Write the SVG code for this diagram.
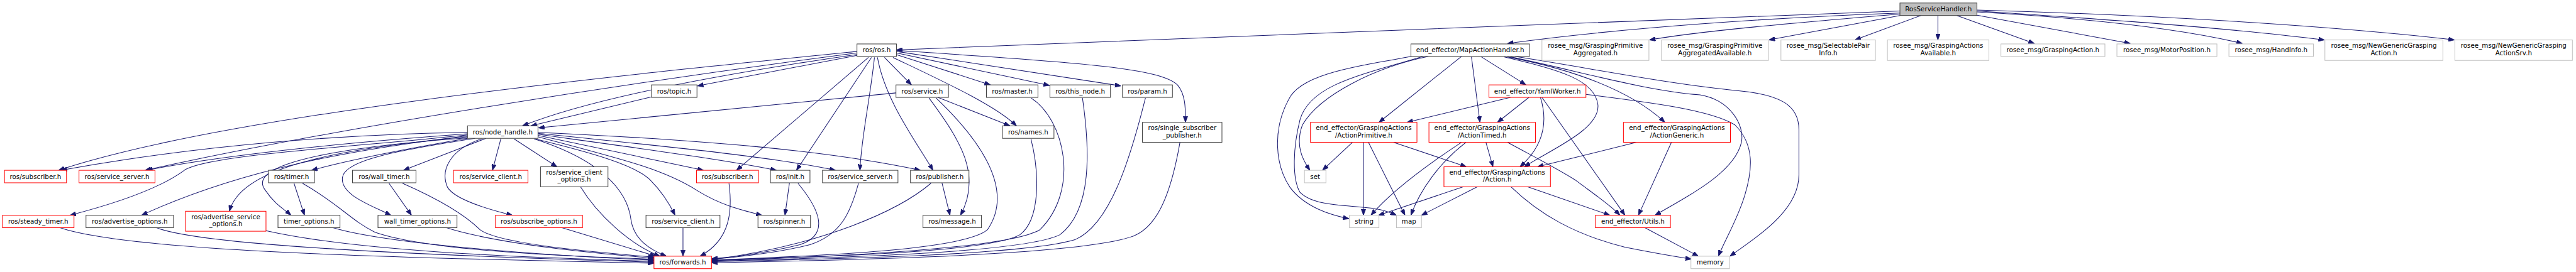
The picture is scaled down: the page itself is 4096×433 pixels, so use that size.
<svg xmlns="http://www.w3.org/2000/svg" width="4096" height="433" viewBox="0 0 4096 433">
<style>
.nd rect{fill:#fff;stroke:#404040;stroke-width:1.3}
.rd rect{fill:#fff;stroke:#ff0000;stroke-width:1.3}
.gr rect{fill:#fff;stroke:#bfbfbf;stroke-width:1.3}
.rt rect{fill:#bfbfbf;stroke:#404040;stroke-width:1.3}
text{font-family:"DejaVu Sans","Liberation Sans",sans-serif;font-size:13px;text-anchor:middle;fill:#000}
#edges path{fill:none;stroke:#191970;stroke-width:1.3;marker-end:url(#a)}
</style>
<defs>
<marker id="a" viewBox="0 0 12 9" refX="12" refY="4.5" markerWidth="12" markerHeight="9" orient="auto" markerUnits="userSpaceOnUse"><path d="M0,0 L12,4.5 L0,9 z" fill="#191970" stroke="#191970" stroke-width="1"/></marker>
</defs>
<rect width="4096" height="433" fill="#fff"/>
<g transform="scale(0.795)">
<g id="edges">
<path d="M3800,22 C3300,40 2300,80 1793,100"/>
<path d="M3800,26 C3550,35 3250,55 3015,87"/>
<path d="M3800,28 C3600,45 3400,62 3299,80"/>
<path d="M3800,31 L3538,80"/>
<path d="M3842,31 L3710,80"/>
<path d="M3876,31 L3876,80"/>
<path d="M3914,31 L4069,87"/>
<path d="M3951,30 L4261,87"/>
<path d="M3954,24 C4150,35 4350,55 4485,87"/>
<path d="M3954,22 C4200,38 4450,55 4649,80"/>
<path d="M3954,20 C4300,30 4650,50 4909,80"/>
<path d="M1714,103 C1200,155 450,230 117,341"/>
<path d="M1714,106 C1300,160 700,250 290,341"/>
<path d="M1714,111 L1395,172"/>
<path d="M1714,109 C1500,140 1200,190 1045,252"/>
<path d="M1737,115 L1473,341"/>
<path d="M1743,115 L1593,341"/>
<path d="M1749,115 C1740,200 1722,280 1720,341"/>
<path d="M1755,115 C1770,200 1830,280 1866,341"/>
<path d="M1769,115 L1823,170"/>
<path d="M1786,115 C1880,160 1990,210 2033,252"/>
<path d="M1792,109 L1981,170"/>
<path d="M1793,106 L2099,171"/>
<path d="M1793,103 L2242,172"/>
<path d="M1793,101 C2150,125 2320,135 2355,170 C2372,190 2371,220 2371,245"/>
<path d="M1303,194 L1062,252"/>
<path d="M1792,186 L1077,256"/>
<path d="M1876,195 L2020,252"/>
<path d="M1858,196 C1920,280 1965,350 1921,431"/>
<path d="M1872,196 C1960,280 2030,380 1975,460 C1930,500 1650,512 1423,521"/>
<path d="M2062,196 C2130,240 2160,380 2080,460 C2010,500 1650,515 1423,522"/>
<path d="M2165,196 C2180,300 2185,420 2120,470 C2050,505 1700,516 1423,523"/>
<path d="M2291,196 C2260,320 2220,450 2150,480 C2050,510 1700,518 1423,524"/>
<path d="M2062,278 C2080,350 2080,440 2040,470 C1980,505 1650,514 1423,521"/>
<path d="M2360,285 C2340,400 2310,460 2260,475 C2150,510 1750,520 1423,526"/>
<path d="M1884,366 L1900,431"/>
<path d="M1862,367 C1800,420 1650,490 1423,520"/>
<path d="M1717,367 C1700,430 1680,470 1620,490 C1560,505 1480,515 1423,519"/>
<path d="M1579,366 L1570,431"/>
<path d="M1596,367 C1640,420 1660,470 1600,490 C1540,505 1470,515 1423,518"/>
<path d="M1458,367 C1465,420 1462,480 1400,513"/>
<path d="M1366,456 L1366,513"/>
<path d="M1124,456 L1312,513"/>
<path d="M1161,374 C1195,430 1260,490 1320,513"/>
<path d="M1068,278 C1200,320 1255,380 1262,440 C1268,480 1300,500 1333,513"/>
<path d="M120,456 C250,500 700,515 1308,527"/>
<path d="M313,456 C400,490 800,510 1308,525"/>
<path d="M532,462 C700,500 1000,515 1308,523"/>
<path d="M666,456 C780,490 1100,512 1308,521"/>
<path d="M605,367 C680,410 700,440 750,465 C850,500 1100,512 1308,519"/>
<path d="M893,456 C1000,490 1200,508 1308,517"/>
<path d="M805,367 C880,400 930,430 960,460 C1000,490 1200,505 1308,515"/>
<path d="M588,367 L609,431"/>
<path d="M778,367 L823,431"/>
<path d="M935,265 C700,268 400,290 122,341"/>
<path d="M935,268 C700,285 450,310 293,341"/>
<path d="M935,270 C700,295 420,310 370,340 C330,370 260,400 140,431"/>
<path d="M935,272 C700,300 480,340 283,431"/>
<path d="M935,274 C650,300 480,340 459,423"/>
<path d="M935,276 C600,300 500,340 530,380 C550,410 570,420 582,431"/>
<path d="M935,277 C800,300 700,320 623,341"/>
<path d="M972,277 L807,341"/>
<path d="M950,277 C800,300 690,320 685,355 C680,390 740,410 782,431"/>
<path d="M1002,277 L985,341"/>
<path d="M963,278 C900,300 880,340 895,375 C910,400 980,420 1025,431"/>
<path d="M1028,278 L1114,334"/>
<path d="M1076,271 L1407,341"/>
<path d="M1076,269 C1300,300 1450,320 1553,341"/>
<path d="M1076,267 C1350,295 1550,315 1671,341"/>
<path d="M1076,265 C1400,280 1650,300 1841,341"/>
<path d="M1070,278 C1180,305 1270,330 1300,360 C1325,385 1340,410 1350,431"/>
<path d="M1076,274 C1250,320 1330,340 1395,382 C1440,410 1480,420 1524,431"/>
<path d="M2823,113 C2700,135 2600,150 2577,200 C2545,260 2550,330 2580,375 C2610,415 2660,430 2698,438"/>
<path d="M2847,113 C2720,150 2620,170 2600,240 C2585,300 2585,360 2600,385 C2630,415 2700,410 2750,418 C2765,420 2780,425 2793,431"/>
<path d="M2857,113 C2750,135 2640,190 2605,250 C2590,290 2605,320 2620,341"/>
<path d="M2923,113 L2758,245"/>
<path d="M2943,114 L2960,245"/>
<path d="M2963,114 L3052,170"/>
<path d="M3009,114 C3120,140 3190,160 3196,210 C3200,260 3100,300 3049,334"/>
<path d="M3015,114 C3150,140 3260,180 3330,245"/>
<path d="M3021,114 C3150,140 3280,180 3400,190 C3460,200 3490,250 3483,285 C3470,340 3400,380 3310,431"/>
<path d="M3030,113 C3200,140 3350,170 3480,182 C3560,190 3598,210 3598,260 L3598,350 C3598,420 3520,470 3460,513"/>
<path d="M3021,195 L2814,245"/>
<path d="M3058,195 L2995,245"/>
<path d="M3081,195 C3095,240 3090,290 3040,334"/>
<path d="M3084,195 L3250,431"/>
<path d="M3172,189 C3300,205 3420,220 3470,250 C3510,290 3505,340 3490,390 C3475,440 3450,480 3437,513"/>
<path d="M2705,285 L2645,341"/>
<path d="M2727,285 L2727,431"/>
<path d="M2737,285 L2810,431"/>
<path d="M2787,285 L2933,334"/>
<path d="M2923,285 C2870,320 2790,375 2742,431"/>
<path d="M2932,285 C2880,325 2840,380 2822,431"/>
<path d="M2972,285 L2986,334"/>
<path d="M3015,285 C3070,315 3110,335 3150,360 C3190,390 3220,410 3240,431"/>
<path d="M3273,285 L3075,334"/>
<path d="M3343,285 L3277,431"/>
<path d="M2927,374 L2757,431"/>
<path d="M2955,374 L2843,431"/>
<path d="M3055,374 L3220,431"/>
<path d="M3022,374 C3080,430 3150,470 3250,495 C3300,505 3340,512 3383,519"/>
<path d="M3290,456 L3397,513"/>
</g>
<g id="n_root" class="rt"><rect x="3800" y="6" width="154" height="25"/><text x="3877" y="23">RosServiceHandler.h</text></g>
<g id="n_ros" class="nd"><rect x="1714" y="88" width="79" height="25"/><text x="1753.5" y="105">ros/ros.h</text></g>
<g id="n_map_handler" class="nd"><rect x="2822" y="88" width="237" height="25"/><text x="2940.5" y="105">end_effector/MapActionHandler.h</text></g>
<g id="n_gpa" class="gr"><rect x="3084" y="80" width="214" height="41"/><text x="3191" y="96">rosee_msg/GraspingPrimitive</text><text x="3191" y="111">Aggregated.h</text></g>
<g id="n_gpaa" class="gr"><rect x="3323" y="80" width="214" height="41"/><text x="3430" y="96">rosee_msg/GraspingPrimitive</text><text x="3430" y="111">AggregatedAvailable.h</text></g>
<g id="n_spi" class="gr"><rect x="3562" y="80" width="189" height="41"/><text x="3656.5" y="96">rosee_msg/SelectablePair</text><text x="3656.5" y="111">Info.h</text></g>
<g id="n_gaa" class="gr"><rect x="3775" y="80" width="203" height="41"/><text x="3876.5" y="96">rosee_msg/GraspingActions</text><text x="3876.5" y="111">Available.h</text></g>
<g id="n_ga" class="gr"><rect x="4002" y="88" width="208" height="25"/><text x="4106" y="105">rosee_msg/GraspingAction.h</text></g>
<g id="n_mp" class="gr"><rect x="4234" y="88" width="200" height="25"/><text x="4334" y="105">rosee_msg/MotorPosition.h</text></g>
<g id="n_hi" class="gr"><rect x="4458" y="88" width="169" height="25"/><text x="4542.5" y="105">rosee_msg/HandInfo.h</text></g>
<g id="n_ngga" class="gr"><rect x="4650" y="80" width="236" height="41"/><text x="4768" y="96">rosee_msg/NewGenericGrasping</text><text x="4768" y="111">Action.h</text></g>
<g id="n_nggas" class="gr"><rect x="4910" y="80" width="235" height="41"/><text x="5027.5" y="96">rosee_msg/NewGenericGrasping</text><text x="5027.5" y="111">ActionSrv.h</text></g>
<g id="n_topic" class="nd"><rect x="1303" y="170" width="91" height="25"/><text x="1348.5" y="187">ros/topic.h</text></g>
<g id="n_service" class="nd"><rect x="1792" y="170" width="105" height="25"/><text x="1844.5" y="187">ros/service.h</text></g>
<g id="n_master" class="nd"><rect x="1973" y="170" width="103" height="25"/><text x="2024.5" y="187">ros/master.h</text></g>
<g id="n_this_node" class="nd"><rect x="2100" y="170" width="121" height="25"/><text x="2160.5" y="187">ros/this_node.h</text></g>
<g id="n_param" class="nd"><rect x="2245" y="170" width="100" height="25"/><text x="2295" y="187">ros/param.h</text></g>
<g id="n_yaml" class="rd"><rect x="2978" y="170" width="194" height="25"/><text x="3075" y="187">end_effector/YamlWorker.h</text></g>
<g id="n_node_handle" class="nd"><rect x="935" y="252" width="141" height="25"/><text x="1005.5" y="269">ros/node_handle.h</text></g>
<g id="n_names" class="nd"><rect x="2005" y="252" width="103" height="25"/><text x="2056.5" y="269">ros/names.h</text></g>
<g id="n_ssp" class="nd"><rect x="2285" y="245" width="159" height="40"/><text x="2364.5" y="261">ros/single_subscriber</text><text x="2364.5" y="275">_publisher.h</text></g>
<g id="n_aprim" class="rd"><rect x="2621" y="245" width="213" height="40"/><text x="2727.5" y="261">end_effector/GraspingActions</text><text x="2727.5" y="275">/ActionPrimitive.h</text></g>
<g id="n_atimed" class="rd"><rect x="2858" y="245" width="213" height="40"/><text x="2964.5" y="261">end_effector/GraspingActions</text><text x="2964.5" y="275">/ActionTimed.h</text></g>
<g id="n_agen" class="rd"><rect x="3247" y="245" width="214" height="40"/><text x="3354" y="261">end_effector/GraspingActions</text><text x="3354" y="275">/ActionGeneric.h</text></g>
<g id="n_sub1" class="rd"><rect x="9" y="341" width="124" height="25"/><text x="71" y="358">ros/subscriber.h</text></g>
<g id="n_ss1" class="rd"><rect x="158" y="341" width="152" height="25"/><text x="234" y="358">ros/service_server.h</text></g>
<g id="n_timer" class="nd"><rect x="537" y="341" width="92" height="25"/><text x="583" y="358">ros/timer.h</text></g>
<g id="n_wall_timer" class="nd"><rect x="705" y="341" width="127" height="25"/><text x="768.5" y="358">ros/wall_timer.h</text></g>
<g id="n_sc1" class="rd"><rect x="907" y="341" width="149" height="25"/><text x="981.5" y="358">ros/service_client.h</text></g>
<g id="n_sco" class="nd"><rect x="1081" y="334" width="135" height="40"/><text x="1148.5" y="350">ros/service_client</text><text x="1148.5" y="364">_options.h</text></g>
<g id="n_sub2" class="rd"><rect x="1393" y="341" width="124" height="25"/><text x="1455" y="358">ros/subscriber.h</text></g>
<g id="n_init" class="nd"><rect x="1541" y="341" width="79" height="25"/><text x="1580.5" y="358">ros/init.h</text></g>
<g id="n_ss2" class="nd"><rect x="1645" y="341" width="151" height="25"/><text x="1720.5" y="358">ros/service_server.h</text></g>
<g id="n_publisher" class="nd"><rect x="1821" y="341" width="117" height="25"/><text x="1879.5" y="358">ros/publisher.h</text></g>
<g id="n_set" class="gr"><rect x="2609" y="341" width="43" height="25"/><text x="2630.5" y="358">set</text></g>
<g id="n_action" class="rd"><rect x="2888" y="334" width="213" height="40"/><text x="2994.5" y="350">end_effector/GraspingActions</text><text x="2994.5" y="364">/Action.h</text></g>
<g id="n_steady" class="rd"><rect x="5" y="431" width="143" height="25"/><text x="76.5" y="448">ros/steady_timer.h</text></g>
<g id="n_adv" class="nd"><rect x="172" y="431" width="175" height="25"/><text x="259.5" y="448">ros/advertise_options.h</text></g>
<g id="n_advs" class="rd"><rect x="371" y="423" width="161" height="40"/><text x="451.5" y="439">ros/advertise_service</text><text x="451.5" y="453">_options.h</text></g>
<g id="n_timer_opt" class="nd"><rect x="556" y="431" width="124" height="25"/><text x="618" y="448">timer_options.h</text></g>
<g id="n_wt_opt" class="nd"><rect x="756" y="431" width="158" height="25"/><text x="835" y="448">wall_timer_options.h</text></g>
<g id="n_subopt" class="rd"><rect x="991" y="431" width="174" height="25"/><text x="1078" y="448">ros/subscribe_options.h</text></g>
<g id="n_sc2" class="nd"><rect x="1292" y="431" width="148" height="25"/><text x="1366" y="448">ros/service_client.h</text></g>
<g id="n_spinner" class="nd"><rect x="1516" y="431" width="105" height="25"/><text x="1568.5" y="448">ros/spinner.h</text></g>
<g id="n_message" class="nd"><rect x="1846" y="431" width="117" height="25"/><text x="1904.5" y="448">ros/message.h</text></g>
<g id="n_string" class="gr"><rect x="2699" y="431" width="59" height="25"/><text x="2728.5" y="448">string</text></g>
<g id="n_map" class="gr"><rect x="2793" y="431" width="50" height="25"/><text x="2818" y="448">map</text></g>
<g id="n_utils" class="rd"><rect x="3191" y="431" width="150" height="25"/><text x="3266" y="448">end_effector/Utils.h</text></g>
<g id="n_forwards" class="rd"><rect x="1308" y="513" width="115" height="25"/><text x="1365.5" y="530">ros/forwards.h</text></g>
<g id="n_memory" class="gr"><rect x="3382" y="513" width="77" height="25"/><text x="3420.5" y="530">memory</text></g>
</g>
</svg>
